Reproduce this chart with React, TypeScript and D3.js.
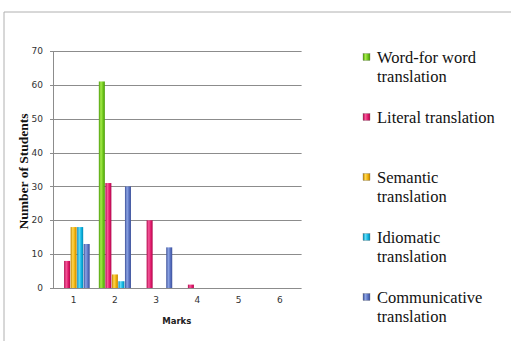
import React from 'react';
import * as d3 from 'd3';

const marks = ['1', '2', '3', '4', '5', '6'];
const seriesNames = ['Word-for word translation', 'Literal translation', 'Semantic translation', 'Idiomatic translation', 'Communicative translation'];
const wordForWord = [0, 61, 0, 0, 0, 0];
const literal = [8, 31, 20, 1, 0, 0];
const semantic = [18, 4, 0, 0, 0, 0];
const idiomatic = [18, 2, 0, 0, 0, 0];
const communicative = [13, 30, 12, 0, 0, 0];
const yTicks = [0, 10, 20, 30, 40, 50, 60, 70];

// legend text lines, as they wrap in the picture
const legendLines = [
  ['Word-for word', 'translation'],
  ['Literal translation'],
  ['Semantic', 'translation'],
  ['Idiomatic', 'translation'],
  ['Communicative', 'translation'],
];

const colors = [
  { base: '#6cc41a', light: '#a6ec4a', dark: '#4a9a08' },
  { base: '#e0186a', light: '#f5589a', dark: '#b0084c' },
  { base: '#eeae08', light: '#ffd850', dark: '#c08400' },
  { base: '#10b4e0', light: '#60dcf8', dark: '#0088b4' },
  { base: '#5870c0', light: '#8ca4e4', dark: '#3c5098' },
];

const W = 511;
const H = 341;
const plot = { left: 53, right: 300.6, top: 51, bottom: 288 };
const serif = "'Liberation Serif', 'Times New Roman', 'DejaVu Serif', serif";
const sans = "'DejaVu Sans', Verdana, sans-serif";

export default function App() {
  const values = [wordForWord, literal, semantic, idiomatic, communicative];

  const x = d3.scaleBand<string>().domain(marks).range([plot.left, plot.right]).padding(0);
  const xInner = d3.scaleBand<number>()
    .domain(d3.range(seriesNames.length))
    .range([0, x.bandwidth()])
    .paddingInner(0.08)
    .paddingOuter(0.7);
  const y = d3.scaleLinear().domain([0, 70]).range([plot.bottom, plot.top]);

  const legendY = [57, 117, 177, 237, 297];

  return (
    <svg width={W} height={H} style={{ position: 'absolute', left: 0, top: 0, background: '#fff' }}>
      <defs>
        {colors.map((c, i) => (
          <linearGradient key={i} id={`bar${i}`} x1="0" x2="1" y1="0" y2="0">
            <stop offset="0%" stopColor={c.dark} />
            <stop offset="35%" stopColor={c.light} />
            <stop offset="70%" stopColor={c.base} />
            <stop offset="100%" stopColor={c.dark} />
          </linearGradient>
        ))}
      </defs>

      {/* frame */}
      <line x1={4} x2={W} y1={12} y2={12} stroke="#b0b0b0" strokeWidth={1} />
      <line x1={4} x2={4} y1={12} y2={H} stroke="#b0b0b0" strokeWidth={1} />

      {/* grid */}
      {yTicks.map(t => (
        <g key={t}>
          <line x1={plot.left - 3} x2={plot.right + 1} y1={Math.round(y(t)) + 0.5} y2={Math.round(y(t)) + 0.5}
            stroke="#8c8c8c" strokeWidth={1} />
          <text x={43} y={y(t)} dy="0.35em" textAnchor="end"
            style={{ fontFamily: sans, fontSize: '9px', fill: '#333' }}>{t}</text>
        </g>
      ))}
      <line x1={plot.left + 0.5} x2={plot.left + 0.5} y1={plot.top} y2={plot.bottom} stroke="#8c8c8c" strokeWidth={1} />

      {/* bars */}
      {values.map((vals, s) => (
        <g key={s}>
          {vals.map((v, i) => v > 0 ? (
            <rect key={i}
              x={(x(marks[i]) ?? 0) + (xInner(s) ?? 0)}
              y={y(v)}
              width={xInner.bandwidth()}
              height={y(0) - y(v)}
              fill={`url(#bar${s})`} />
          ) : null)}
        </g>
      ))}

      {/* x labels */}
      {marks.map(m => (
        <text key={m} x={(x(m) ?? 0) + x.bandwidth() / 2} y={300} dy="0.35em" textAnchor="middle"
          style={{ fontFamily: sans, fontSize: '9px', fill: '#333' }}>{m}</text>
      ))}
      <text x={(plot.left + plot.right) / 2} y={321} dy="0.35em" textAnchor="middle"
        style={{ fontFamily: sans, fontSize: '8.5px', fontWeight: 'bold', fill: '#222' }}>Marks</text>

      <text transform={`translate(23, ${(plot.top + plot.bottom) / 2 + 2}) rotate(-90)`} textAnchor="middle" dy="0.35em"
        style={{ fontFamily: serif, fontSize: '13.5px', fontWeight: 'bold', fill: '#111' }}>Number of Students</text>

      {/* legend */}
      {legendLines.map((lines, i) => (
        <g key={i}>
          <rect x={363} y={legendY[i] - 3.5} width={7} height={7} fill={`url(#bar${i})`} stroke="#666" strokeWidth={0.3} />
          {lines.map((ln, j) => (
            <text key={j} x={377} y={legendY[i] + j * 19.5} dy="0.35em"
              style={{ fontFamily: serif, fontSize: '16.5px', fill: '#111' }}>{ln}</text>
          ))}
        </g>
      ))}
    </svg>
  );
}
